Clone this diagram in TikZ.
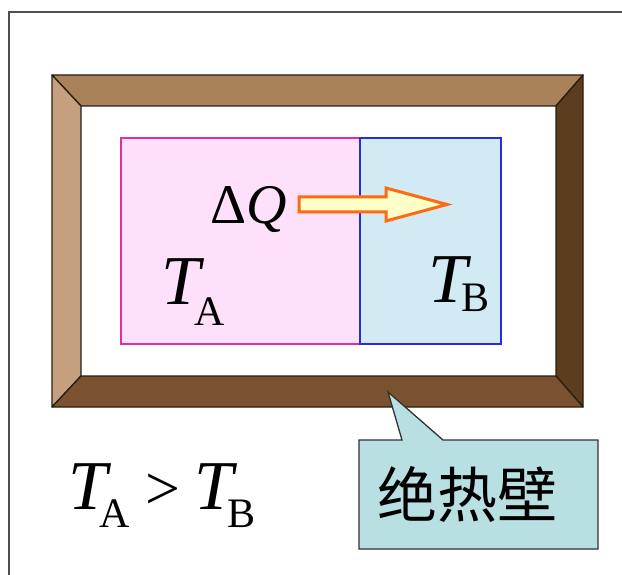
\documentclass[tikz,border=0pt]{standalone}
\usepackage{fontspec}
\setmainfont{Liberation Serif}
\newfontfamily\cjk{Noto Sans CJK SC}
\definecolor{frtop}{RGB}{169,130,89}
\definecolor{frleft}{RGB}{196,160,126}
\definecolor{frright}{RGB}{92,61,30}
\definecolor{frbot}{RGB}{122,82,48}
\definecolor{frline}{RGB}{40,30,20}
\definecolor{pinkfill}{RGB}{255,224,250}
\definecolor{pinkline}{RGB}{224,48,159}
\definecolor{bluefill}{RGB}{210,234,244}
\definecolor{blueline}{RGB}{42,42,224}
\definecolor{arrfill}{RGB}{255,255,200}
\definecolor{arrline}{RGB}{255,106,16}
\definecolor{callfill}{RGB}{184,223,226}
\definecolor{callline}{RGB}{50,50,50}
\tikzset{
  frpart/.style={draw=frline, line width=1.3pt, line join=round},
  bigT/.style={inner sep=0pt, anchor=base west, font=\fontsize{70}{70}\selectfont\itshape},
  subl/.style={inner sep=0pt, anchor=base west, font=\fontsize{42}{42}\selectfont},
}
\begin{document}
\begin{tikzpicture}[x=1pt,y=-1pt]
\useasboundingbox (0,0) rectangle (622,575);
\clip (0,0) rectangle (622,575);
\fill[white] (0,0) rectangle (622,575);
\draw[line width=1.5pt, draw={rgb,255:red,80;green,80;blue,80}] (9,12) rectangle (640,600);
% frame corners
\coordinate (otl) at (52,75);  \coordinate (otr) at (583,75);
\coordinate (obr) at (583,407); \coordinate (obl) at (52,407);
\coordinate (itl) at (81,106); \coordinate (itr) at (556,106);
\coordinate (ibr) at (556,376); \coordinate (ibl) at (81,376);
\fill[white] (itl) rectangle (ibr);
\draw[frpart, fill=frtop] (otl) -- (otr) -- (itr) -- (itl) -- cycle;
\draw[frpart, fill=frleft] (otl) -- (itl) -- (ibl) -- (obl) -- cycle;
\draw[frpart, fill=frright] (otr) -- (obr) -- (ibr) -- (itr) -- cycle;
\draw[frpart, fill=frbot] (obl) -- (ibl) -- (ibr) -- (obr) -- cycle;
% regions
\draw[draw=pinkline, fill=pinkfill, line width=1.5pt] (121,138) rectangle (360,344);
\draw[draw=blueline, fill=bluefill, line width=1.5pt] (360,138) rectangle (501,344);
% heat arrow
\draw[draw=arrline, fill=arrfill, line width=3pt, line join=miter]
  (299,197) -- (386,197) -- (386,188) -- (447,204.5) -- (386,221) -- (386,212) -- (299,212) -- cycle;
\node[inner sep=0pt, anchor=base west, font=\fontsize{56}{56}\selectfont] (dq) at (210,224) {Δ\textit{Q}};
% temperatures inside
\node[bigT] (ta) at (161,305) {T};
\node[subl] (tasub) at (194,325) {A};
\node[bigT] (tb) at (428,302) {T};
\node[subl] (tbsub) at (461,312) {B};
% callout
\draw[draw=callline, fill=callfill, line width=1.3pt, line join=miter]
  (359,440) -- (402,440) -- (388,392) -- (443,440) -- (598,440) -- (598,549) -- (359,549) -- cycle;
\node[inner sep=0pt, anchor=base west, font=\cjk\fontsize{60}{60}\selectfont] (wall) at (377,517) {绝热壁};
% relation
\node[bigT] (t1) at (68,509) {T};
\node[subl] (t1s) at (99,527) {A};
\node[inner sep=0pt, anchor=base west, font=\fontsize{62}{62}\selectfont] (gt) at (145,509) {>};
\node[bigT] (t2) at (194,509) {T};
\node[subl] (t2s) at (227,527) {B};
\end{tikzpicture}
\end{document}
